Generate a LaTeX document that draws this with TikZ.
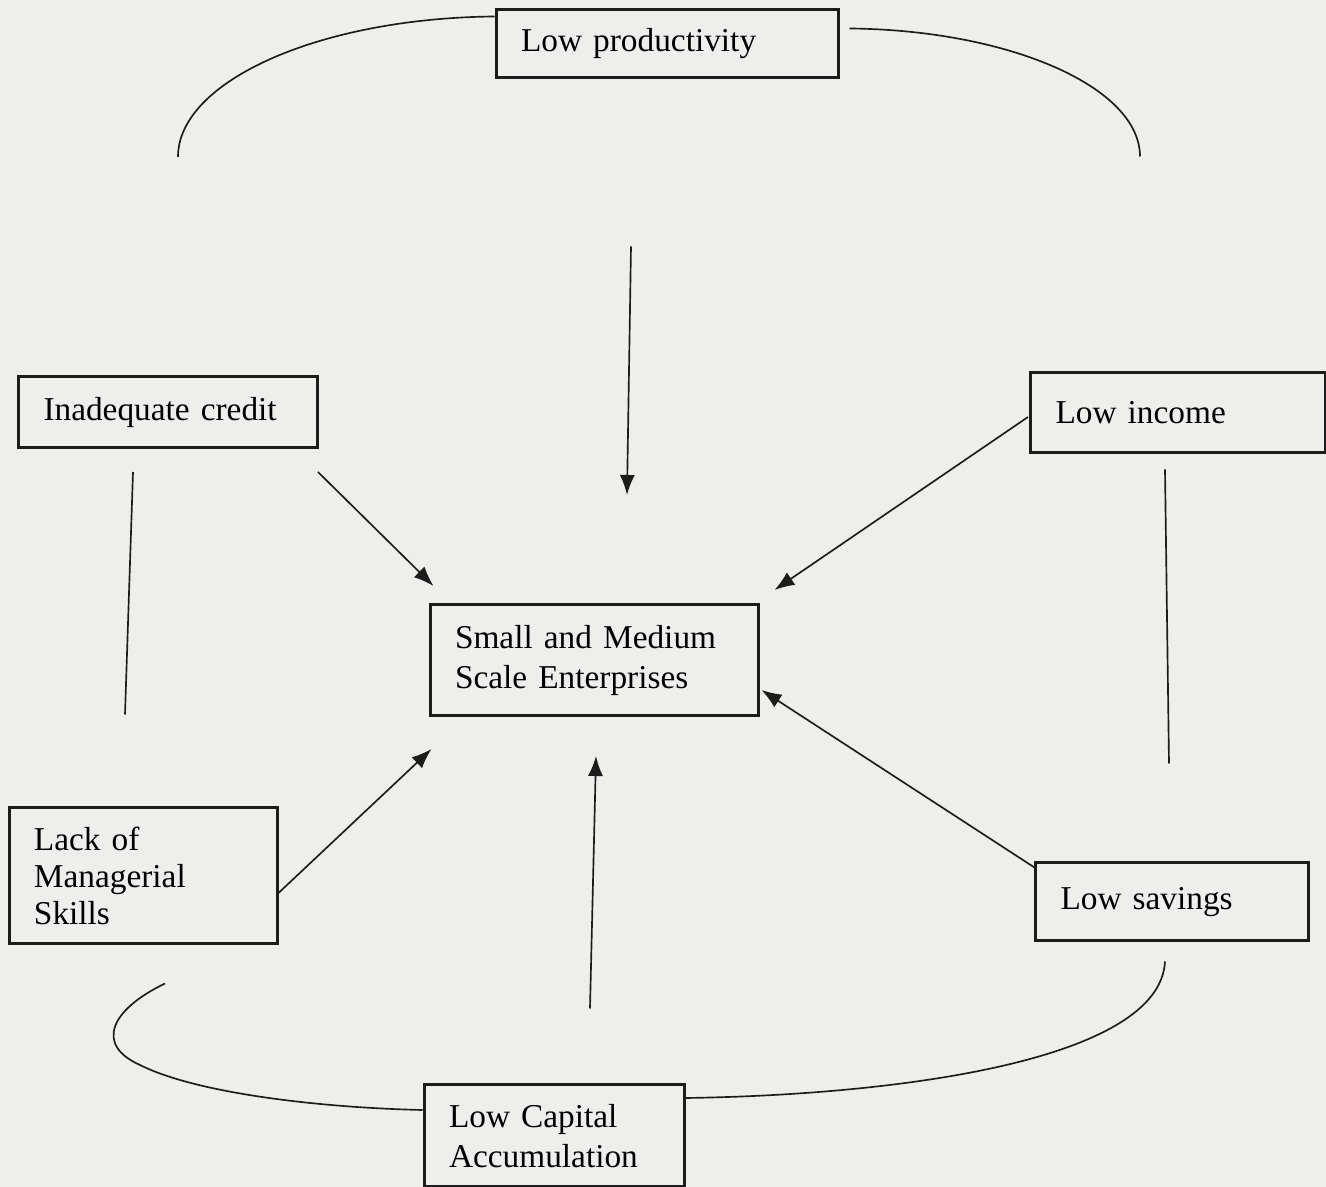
\documentclass[tikz,border=0pt]{standalone}
\usepackage{fontspec}
\setmainfont{Liberation Serif}
\usetikzlibrary{arrows.meta,positioning,calc}

\definecolor{paper}{RGB}{238,238,237}
\definecolor{ink}{RGB}{28,28,28}

\tikzset{
  box/.style={draw=ink, line width=0.9pt, align=left, inner xsep=7.5pt, inner ysep=2pt},
  link/.style={draw=ink, line width=0.5pt},
  arrow/.style={link, -{Latex[length=6pt,width=4.5pt]}}
}

\begin{document}
\begin{tikzpicture}[x=0.3pt, y=-0.3pt]
  \useasboundingbox (0,0) rectangle (1326,1187);
  \fill [paper] (0,0) rectangle (1326,1187);
  \node (lowprod) [box, text width=87.6pt, minimum height=20.4pt] at (667,44)
    {Low productivity};
  \node (credit) [box, text width=74.7pt, minimum height=21.3pt] at (168,412)
    {Inadequate credit};
  \node (income) [box, text width=73.5pt, minimum height=24pt] at (1178,413)
    {Low income};
  \node (sme) [box, text width=83.4pt, minimum height=33.3pt] at (594,660)
    {Small and Medium\\Scale Enterprises};
  \node (skills) [box, text width=65.4pt, minimum height=40.8pt,
      font=\linespread{0.92}\selectfont] at (143,876)
    {Lack of\\Managerial\\Skills};
  \node (savings) [box, text width=66.9pt, minimum height=23.4pt] at (1172,902)
    {Low savings};
  \node (capital) [box, text width=63pt, minimum height=30.6pt] at (554,1136)
    {Low Capital\\Accumulation};
  % Draw arrows
  \draw [arrow] ($(lowprod.south)+(-36,167)$) -- ($(sme.north)+(33,-108)$);
  \draw [arrow] ($(credit.south east)+(-1,23)$) -- ($(sme.north west)+(5,-17)$);
  \draw [arrow] ($(income.west)+(-1,4)$) -- ($(sme.north east)+(15,-13)$);
  \draw [arrow] ($(skills.east)+(0,17)$) -- ($(sme.south west)+(3,32)$);
  \draw [arrow] ($(capital.north)+(36,-75)$) -- ($(sme.south)+(2,39)$);
  \draw [arrow] ($(savings.north west)+(2,7)$) -- ($(sme.east)+(2,30)$);
  % Draw the cycle
  \draw [link] ($(credit.south)+(-35,23)$) -- ($(skills.north)+(-18,-92)$);
  \draw [link] ($(income.south)+(-13,15)$) -- ($(savings.north)+(-3,-98)$);
  \draw [link] ($(credit.north)+(10,-218)$)
    .. controls (178,81) and (320,18) .. ($(lowprod.north west)+(0,8)$);
  \draw [link] ($(lowprod.north east)+(10,20)$)
    .. controls (1009,30) and (1140,87) .. ($(income.north)+(-38,-215)$);
  \draw [link] ($(skills.south)+(22,38)$)
    .. controls (110,1010) and (95,1045) .. (140,1065)
    .. controls (200,1095) and (330,1108) .. ($(capital.west)+(0,-26)$);
  \draw [link] ($(savings.south)+(-7,19)$)
    .. controls (1160,1060) and (900,1095) .. ($(capital.east)+(0,-38)$);
\end{tikzpicture}
\end{document}
